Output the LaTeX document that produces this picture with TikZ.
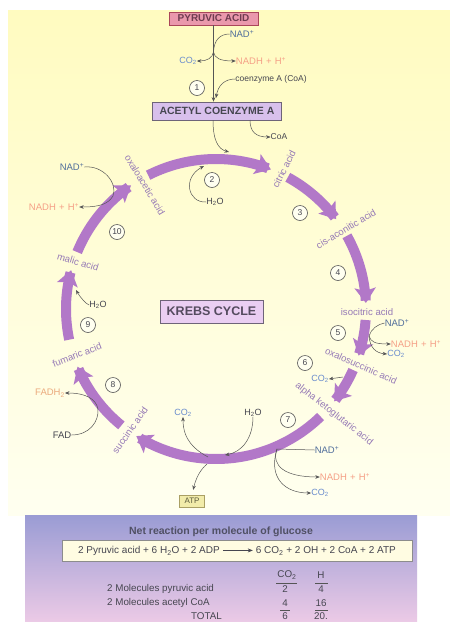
\documentclass[tikz,border=0pt]{standalone}
\usepackage{fontspec}
\setmainfont{Liberation Sans}
\usetikzlibrary{arrows.meta,calc}
\definecolor{bandc}{RGB}{178,120,200}
\definecolor{nadc}{RGB}{80,110,155}
\definecolor{co2c}{RGB}{105,140,205}
\definecolor{nadhc}{RGB}{245,160,135}
\definecolor{fadhc}{RGB}{235,170,125}
\definecolor{acidc}{RGB}{150,122,182}
\definecolor{darkc}{RGB}{70,70,80}
\definecolor{linec}{RGB}{85,85,85}
\definecolor{pyrf}{RGB}{234,152,172}
\definecolor{pyrd}{RGB}{170,70,90}
\definecolor{acef}{RGB}{216,192,236}
\definecolor{boxd}{RGB}{110,100,120}
\definecolor{krebsf}{RGB}{234,206,242}
\definecolor{atpf}{RGB}{242,236,170}
\definecolor{atpd}{RGB}{170,160,100}
\definecolor{bgtop}{RGB}{255,251,192}
\definecolor{bgbot}{RGB}{255,255,240}
\definecolor{paneltop}{RGB}{154,156,212}
\definecolor{panelbot}{RGB}{236,202,230}
\definecolor{eqf}{RGB}{255,252,226}
\begin{document}
\begin{tikzpicture}[x=1pt,y=-1pt,
  lbl/.style={inner sep=0pt, font=\fontsize{9.5}{11}\selectfont},
  acid/.style={lbl, text=acidc, font=\fontsize{9.6}{11}\selectfont},
  numc/.style={circle, draw=linec, line width=0.6pt, fill=bgbot, minimum size=15pt, inner sep=0pt, font=\fontsize{8.5}{10}\selectfont, text=darkc},
  conn/.style={draw=linec, line width=0.5pt, -{Stealth[length=4.5pt,width=3.6pt]}},
  connplain/.style={draw=linec, line width=0.5pt},
  band/.style={draw=bandc, line width=10pt, line cap=butt, -{Stealth[length=15pt,width=21pt,inset=3pt]}},
  titlebox/.style={draw=boxd, line width=0.6pt, inner sep=0pt, font=\bfseries\fontsize{10}{12}\selectfont, text=darkc},
  tab/.style={inner sep=0pt, font=\fontsize{9.8}{11}\selectfont, text=darkc}
]
\useasboundingbox (0,0) rectangle (450,622);
\fill[white] (0,0) rectangle (450,622);
\shade[top color=bgtop, bottom color=bgbot] (8,10) rectangle (450,515);

% ---------- bottom panel ----------
\shade[top color=paneltop, bottom color=panelbot] (25,515) rectangle (417,622);
\node[inner sep=0pt, font=\bfseries\fontsize{10.5}{12}\selectfont, text={rgb,255:red,80;green,80;blue,100}] (nettitle) at (221,532) {Net reaction per molecule of glucose};
\node[draw={rgb,255:red,140;green,140;blue,140}, fill=eqf, minimum width=350pt, minimum height=21pt, inner sep=0pt, font=\fontsize{10}{12}\selectfont, text=darkc] (eqbox) at (237,551)
  {2 Pyruvic acid + 6 H\textsubscript{2}O + 2 ADP \tikz[baseline=-0.6ex]\draw[line width=0.5pt,-{Stealth[length=5pt,width=4pt]}] (0pt,0pt)--(30pt,0pt); 6 CO\textsubscript{2} + 2 OH + 2 CoA + 2 ATP};
\node[tab] (hco2) at (287,575) {CO\textsubscript{2}};
\node[tab] (hh) at (321,575) {H};
\draw[linec, line width=0.5pt] (276,583) -- (297,583);
\draw[linec, line width=0.5pt] (315,583) -- (328,583);
\node[tab, anchor=west] (r1) at (107,589) {2 Molecules pyruvic acid};
\node[tab, anchor=west] (r2) at (107,603) {2 Molecules acetyl CoA};
\node[tab, anchor=east] (r3) at (222,616) {TOTAL};
\node[tab] (v11) at (285,589) {2};
\node[tab] (v12) at (321,589) {4};
\node[tab] (v21) at (285,603) {4};
\node[tab] (v22) at (321,603) {16};
\node[tab] (v31) at (285,616) {6};
\node[tab] (v32) at (321,616) {20.};
\draw[linec, line width=0.5pt] (280,610) -- (290,610);
\draw[linec, line width=0.5pt] (315,610) -- (328,610);

% ---------- top: pyruvic -> acetyl CoA ----------
\node[titlebox, fill=pyrf, draw=pyrd, minimum width=89pt, minimum height=13pt, text={rgb,255:red,110;green,60;blue,80}] (pyr) at (213.5,18.5) {PYRUVIC ACID};
\node[titlebox, fill=acef, minimum width=129pt, minimum height=18pt, font=\bfseries\fontsize{10.5}{12}\selectfont] (ace) at (217,111) {ACETYL COENZYME A};
\draw[conn] (pyr.south) -- (pyr.south |- ace.north);
\node[lbl, text=nadc] (nad1) at (242,34) {NAD\textsuperscript{+}};
\node[lbl, text=co2c, font=\fontsize{9}{10}\selectfont] (co21) at (188,61) {CO\textsubscript{2}};
\node[lbl, text=nadhc] (nadh1) at (261,61) {NADH\,\,+\,\,H\textsuperscript{+}};
\coordinate (j1) at (213.5,52);
\draw[connplain] (nad1.west) .. controls (220,34) and (214,40) .. (j1);
\draw[conn] (j1) .. controls (212.5,58) and (207,61) .. (co21.east);
\draw[conn] (j1) .. controls (214.5,58) and (220,61) .. (nadh1.west);
\node[numc] (n1) at (197,88) {1};
\node[lbl, text=darkc, font=\fontsize{8.5}{10}\selectfont] (coa1) at (271,79) {coenzyme A (CoA)};
\draw[conn] (coa1.west) .. controls (224,79) and (218,86) .. (216,98);
\coordinate (a1) at (213,120);
\coordinate (a2) at (250,120);
\node[lbl, text=darkc, font=\fontsize{8.5}{10}\selectfont] (coa2) at (279,137) {CoA};
\draw[conn] (a1) .. controls (213,140) and (218,149) .. (229,152);
\draw[conn] (a2) .. controls (250,132) and (256,137) .. (coa2.west);

% ---------- cycle bands ----------
\def\cx{216}\def\cy{309}\def\rr{150}
\draw[band] plot[domain=-116.9:-68.5, samples=40] ({\cx+\rr*cos(\x)},{\cy+\rr*sin(\x)});
\draw[band] plot[domain=-61.4:-36.8, samples=30] ({\cx+\rr*cos(\x)},{\cy+\rr*sin(\x)});
\draw[band] plot[domain=-29.2:-2.3, samples=30] ({\cx+\rr*cos(\x)},{\cy+\rr*sin(\x)});
\draw[band] plot[domain=4.2:18.1, samples=20] ({\cx+\rr*cos(\x)},{\cy+\rr*sin(\x)});
\draw[band] plot[domain=24:38, samples=20] ({\cx+\rr*cos(\x)},{\cy+\rr*sin(\x)});
\draw[band] plot[domain=45.8:122.1, samples=50] ({\cx+\rr*cos(\x)},{\cy+\rr*sin(\x)});
\draw[band] plot[domain=129.1:157.4, samples=30] ({\cx+\rr*cos(\x)},{\cy+\rr*sin(\x)});
\draw[band] plot[domain=168.2:195, samples=30] ({\cx+\rr*cos(\x)},{\cy+\rr*sin(\x)});
\draw[band] plot[domain=202.3:235.5, samples=30] ({\cx+\rr*cos(\x)},{\cy+\rr*sin(\x)});

% ---------- acid labels ----------
\node[acid, rotate=-59] (oxa) at (145,185) {oxaloacetic acid};
\node[acid, rotate=63] (cit) at (284,169) {citric acid};
\node[acid, rotate=31] (cis) at (346,229) {cis-aconitic acid};
\node[acid] (iso) at (367,312) {isocitric acid};
\node[acid, rotate=-24] (oxs) at (361,366) {oxalosuccinic acid};
\node[acid, rotate=-38] (akg) at (334,414) {alpha ketoglutaric acid};
\node[acid, rotate=55] (suc) at (130,430) {succinic acid};
\node[acid, rotate=21] (fum) at (77,355) {fumaric acid};
\node[acid, rotate=-17] (mal) at (78,262) {malic acid};

% ---------- numbers ----------
\node[numc] (n2) at (212,180) {2};
\node[numc] (n3) at (300,213) {3};
\node[numc] (n4) at (338,273) {4};
\node[numc] (n5) at (338,333) {5};
\node[numc] (n6) at (305,363) {6};
\node[numc] (n7) at (288,420) {7};
\node[numc] (n8) at (113,385) {8};
\node[numc] (n9) at (88,325) {9};
\node[numc] (n10) at (117,232) {10};

% ---------- step 2 ----------
\node[lbl, text=darkc, font=\fontsize{9}{10}\selectfont] (h2o2) at (215,202) {H\textsubscript{2}O};
\draw[conn] (h2o2.west) .. controls (188,203) and (182,178) .. (204,166);

% ---------- step 5 ----------
\node[lbl, text=nadc] (nad5) at (397,323) {NAD\textsuperscript{+}};
\node[lbl, text=nadhc] (nadh5) at (416,344) {NADH\,\,+\,\,H\textsuperscript{+}};
\node[lbl, text=co2c, font=\fontsize{9}{10}\selectfont] (co25) at (396,354) {CO\textsubscript{2}};
\coordinate (j5) at (369,336);
\draw[connplain] (nad5.west) .. controls (378,324) and (371,329) .. (j5);
\draw[conn] (j5) .. controls (371,342) and (375,344) .. (nadh5.west);
\draw[conn] (j5) .. controls (370,348) and (376,353) .. (co25.west);

% ---------- step 6 ----------
\node[lbl, text=co2c, font=\fontsize{9}{10}\selectfont] (co26) at (320,379) {CO\textsubscript{2}};
\coordinate (j6) at (343,377);
\draw[conn] (j6) -- (co26.east);

% ---------- step 7 ----------
\node[lbl, text=nadc] (nad7) at (327,450) {NAD\textsuperscript{+}};
\node[lbl, text=nadhc] (nadh7) at (345,477) {NADH\,\,+\,\,H\textsuperscript{+}};
\node[lbl, text=co2c, font=\fontsize{9}{10}\selectfont] (co27) at (320,493) {CO\textsubscript{2}};
\coordinate (j7) at (277,449);
\draw[connplain] (nad7.west) -- (j7);
\draw[conn] (j7) .. controls (271,466) and (285,477) .. (nadh7.west);
\draw[conn] (j7) .. controls (268,478) and (285,493) .. (co27.west);
\node[lbl, text=darkc, font=\fontsize{9}{10}\selectfont] (h2o7) at (253,413) {H\textsubscript{2}O};
\draw[conn] (h2o7.south) .. controls (253,438) and (242,452) .. (225,455);
\node[lbl, text=co2c, font=\fontsize{9}{10}\selectfont] (co27b) at (183,413) {CO\textsubscript{2}};
\coordinate (j7b) at (208,457);
\draw[conn] (j7b) .. controls (195,450) and (183,440) .. (co27b.south);
\node[draw=atpd, fill=atpf, line width=0.5pt, minimum width=25pt, minimum height=12pt, inner sep=0pt, font=\fontsize{8}{9}\selectfont, text={rgb,255:red,90;green,90;blue,60}] (atp) at (192,501) {ATP};
\coordinate (j7c) at (207,464);
\draw[conn, shorten >=5pt] (j7c) .. controls (200,470) and (196,478) .. (atp.north);

% ---------- step 8 ----------
\node[lbl, text=fadhc] (fadh) at (50,393) {FADH\textsubscript{2}};
\node[lbl, text=darkc] (fad) at (62,435) {FAD};
\coordinate (j8) at (98,409);
\draw[connplain] (fad.east) .. controls (90,435) and (99,421) .. (j8);
\draw[conn] (j8) .. controls (96,399) and (86,393) .. (fadh.east);

% ---------- step 9 ----------
\node[lbl, text=darkc, font=\fontsize{9}{10}\selectfont] (h2o9) at (98,305) {H\textsubscript{2}O};
\draw[conn] (h2o9.west) .. controls (86,304) and (80,297) .. (76,290);

% ---------- step 10 ----------
\node[lbl, text=nadc] (nad10) at (72,167) {NAD\textsuperscript{+}};
\node[lbl, text=nadhc] (nadh10) at (54,207) {NADH\,\,+\,\,H\textsuperscript{+}};
\coordinate (j10) at (113,196);
\draw[connplain] (nad10.east) .. controls (103,165) and (118,183) .. (j10);
\draw[conn] (j10) .. controls (108,204) and (100,207) .. (nadh10.east);

% ---------- centre ----------
\node[draw=boxd, fill=krebsf, line width=0.6pt, minimum width=103pt, minimum height=23pt, inner sep=0pt, font=\bfseries\fontsize{12.5}{14}\selectfont, text={rgb,255:red,85;green,75;blue,95}] (krebs) at (211.5,311.5) {KREBS CYCLE};
\end{tikzpicture}
\end{document}
